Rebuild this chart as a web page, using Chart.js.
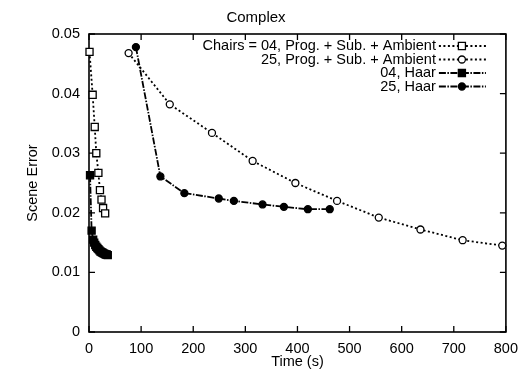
<!DOCTYPE html>
<html>
<head>
<meta charset="utf-8">
<script src="https://cdn.jsdelivr.net/npm/chart.js@4.4.1/dist/chart.umd.min.js"></script>
<style>
  html, body { margin: 0; padding: 0; background: #fff; }
  #wrap { width: 526px; height: 371px; }
</style>
</head>
<body>
<div id="wrap"><canvas id="myChart" width="526" height="371"></canvas></div>
<script>
// time (s) and scene error for each run
var chairs04ProgT = [1, 7, 11, 14, 18, 21, 24, 27, 31];
var chairs04ProgE = [0.0470, 0.0398, 0.0344, 0.0300, 0.0267, 0.0238, 0.0222, 0.0208, 0.0199];

var chairs25ProgT = [76, 155, 236, 314, 396, 476, 556, 636, 717, 793];
var chairs25ProgE = [0.0468, 0.0382, 0.0334, 0.0287, 0.0250, 0.0220, 0.0192, 0.0172, 0.0154, 0.0145];

var haar04T = [2, 5, 8, 10, 12, 14, 16, 18, 20, 22, 24, 26, 28, 30, 32, 34, 36];
var haar04E = [0.0263, 0.0170, 0.0155, 0.0150, 0.0146, 0.0143, 0.0141, 0.0139, 0.0137, 0.0135, 0.0134, 0.0133, 0.0132, 0.0131, 0.0130, 0.0130, 0.0129];

var haar25T = [90, 137, 183, 249, 278, 333, 374, 420, 462];
var haar25E = [0.0478, 0.0261, 0.0233, 0.0224, 0.0220, 0.0214, 0.0210, 0.0206, 0.0206];

var seriesNames = ["Chairs = 04, Prog. + Sub. + Ambient", "25, Prog. + Sub. + Ambient", "04, Haar", "25, Haar"];
var xTicks = [0, 100, 200, 300, 400, 500, 600, 700, 800];
var yTicks = [0, 0.01, 0.02, 0.03, 0.04, 0.05];

var FONT = "'Liberation Sans', Arial, Helvetica, sans-serif";

function pts(t, e) {
  return t.map(function (v, i) { return { x: v, y: e[i] }; });
}

function series(label, t, e, style, radius, fill, dash) {
  return {
    label: label,
    data: pts(t, e),
    showLine: true,
    borderColor: "#000",
    borderWidth: 1.8,
    borderDash: dash,
    pointStyle: style,
    pointRadius: radius,
    pointBorderWidth: 1.3,
    pointBorderColor: "#000",
    pointBackgroundColor: fill,
    backgroundColor: fill,
    clip: false
  };
}

// box with inward tick marks on all four sides
var frame = {
  id: "frame",
  beforeDatasetsDraw: function (chart) {
    var ctx = chart.ctx, a = chart.chartArea, x = chart.scales.x, y = chart.scales.y;
    ctx.save();
    ctx.strokeStyle = "#000";
    ctx.lineWidth = 1.6;
    ctx.strokeRect(a.left, a.top, a.right - a.left, a.bottom - a.top);
    ctx.lineWidth = 1.3;
    ctx.beginPath();
    xTicks.forEach(function (v) {
      var px = x.getPixelForValue(v);
      ctx.moveTo(px, a.bottom); ctx.lineTo(px, a.bottom - 6);
      ctx.moveTo(px, a.top); ctx.lineTo(px, a.top + 6);
    });
    yTicks.forEach(function (v) {
      var py = y.getPixelForValue(v);
      ctx.moveTo(a.left, py); ctx.lineTo(a.left + 6, py);
      ctx.moveTo(a.right, py); ctx.lineTo(a.right - 6, py);
    });
    ctx.stroke();
    ctx.restore();
  }
};

// key in the top right corner: text, then a line sample with its marker
var keyBox = {
  id: "keyBox",
  afterDatasetsDraw: function (chart) {
    var ctx = chart.ctx, a = chart.chartArea;
    var textRight = a.right - 70, x0 = a.right - 67, x1 = a.right - 20, xm = a.right - 44;
    ctx.save();
    ctx.font = "14.5px " + FONT;
    ctx.textAlign = "right";
    ctx.textBaseline = "middle";
    chart.data.datasets.forEach(function (ds, i) {
      var yy = a.top + 12 + i * 13.5;
      ctx.fillStyle = "#000";
      ctx.fillText(ds.label, textRight, yy);
      ctx.strokeStyle = "#000";
      ctx.lineWidth = 1.8;
      ctx.setLineDash(ds.borderDash);
      ctx.beginPath();
      ctx.moveTo(x0, yy); ctx.lineTo(x1, yy);
      ctx.stroke();
      ctx.setLineDash([]);
      ctx.lineWidth = 1.3;
      ctx.fillStyle = ds.pointBackgroundColor;
      ctx.beginPath();
      if (ds.pointStyle === "rect") {
        var s = ds.pointRadius * Math.SQRT1_2;
        ctx.rect(xm - s, yy - s, 2 * s, 2 * s);
      } else {
        ctx.arc(xm, yy, ds.pointRadius, 0, Math.PI * 2);
      }
      ctx.fill();
      ctx.stroke();
    });
    ctx.restore();
  }
};

var ctx = document.getElementById("myChart");
var myChart = new Chart(ctx, {
  type: "scatter",
  data: {
    datasets: [
      series(seriesNames[0], chairs04ProgT, chairs04ProgE, "rect", 5, "#fff", [2, 2.5]),
      series(seriesNames[1], chairs25ProgT, chairs25ProgE, "circle", 3.5, "#fff", [2, 2.5]),
      series(seriesNames[2], haar04T, haar04E, "rect", 5, "#000", [7, 1.5, 1.5, 1.5]),
      series(seriesNames[3], haar25T, haar25E, "circle", 3.5, "#000", [7, 1.5, 1.5, 1.5])
    ]
  },
  options: {
    responsive: false,
    animation: false,
    layout: { padding: { left: 0, right: 14, top: 0, bottom: 0 } },
    plugins: {
      legend: { display: false },
      tooltip: { enabled: false },
      title: {
        display: true,
        text: "Complex",
        color: "#000",
        font: { family: FONT, size: 15, weight: "normal" },
        padding: { top: 9, bottom: 7 }
      }
    },
    scales: {
      x: {
        type: "linear",
        min: 0,
        max: 800,
        afterFit: function (s) { s.height = 39; },
        afterBuildTicks: function (s) { s.ticks = xTicks.map(function (v) { return { value: v }; }); },
        grid: { display: false, drawTicks: false },
        border: { display: false },
        ticks: { color: "#000", padding: 8, font: { family: FONT, size: 14.5 }, maxRotation: 0 },
        title: { display: true, text: "Time (s)", color: "#000", font: { family: FONT, size: 14.5 }, padding: { top: 0, bottom: 0 } }
      },
      y: {
        type: "linear",
        min: 0,
        max: 0.05,
        afterFit: function (s) { s.width = 89; },
        afterBuildTicks: function (s) { s.ticks = yTicks.map(function (v) { return { value: v }; }); },
        grid: { display: false, drawTicks: false },
        border: { display: false },
        ticks: {
          color: "#000",
          padding: 9,
          font: { family: FONT, size: 14.5 },
          callback: function (v) { return v === 0 ? "0" : v.toFixed(2); }
        },
        title: { display: true, text: "Scene Error", color: "#000", font: { family: FONT, size: 14.5 }, padding: { top: 24.3, bottom: 0 } }
      }
    }
  },
  plugins: [frame, keyBox]
});
</script>
</body>
</html>
